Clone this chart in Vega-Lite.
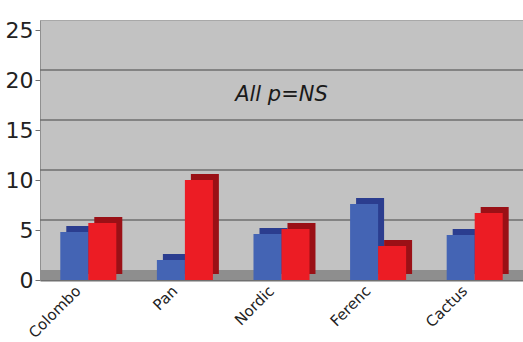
{
  "$schema": "https://vega.github.io/schema/vega-lite/v6.json",
  "width": 483,
  "height": 260,
  "autosize": {"type": "none"},
  "padding": {"left": 40, "top": 20, "right": 0, "bottom": 62},
  "background": "white",
  "config": {
    "view": {"fill": "#c2c2c2", "stroke": "#a8a8a8"},
    "font": "DejaVu Sans"
  },
  "datasets": {
    "bars": [
      {"study": "Colombo", "series": "Group 1", "value": 4.8},
      {"study": "Colombo", "series": "Group 2", "value": 5.7},
      {"study": "Pan", "series": "Group 1", "value": 2.0},
      {"study": "Pan", "series": "Group 2", "value": 10.0},
      {"study": "Nordic", "series": "Group 1", "value": 4.6},
      {"study": "Nordic", "series": "Group 2", "value": 5.1},
      {"study": "Ferenc", "series": "Group 1", "value": 7.6},
      {"study": "Ferenc", "series": "Group 2", "value": 3.4},
      {"study": "Cactus", "series": "Group 1", "value": 4.5},
      {"study": "Cactus", "series": "Group 2", "value": 6.7}
    ],
    "grid": [{"v": 5}, {"v": 10}, {"v": 15}, {"v": 20}]
  },
  "resolve": {"scale": {"color": "independent", "xOffset": "independent"}},
  "layer": [
    {
      "data": {"values": [{}]},
      "mark": {"type": "rect", "color": "#8e8e8e"},
      "encoding": {
        "y": {"datum": 0, "type": "quantitative", "scale": {"domain": [0, 25]},
              "axis": {"title": null, "values": [0, 5, 10, 15, 20, 25], "grid": false, "labelFontSize": 22,
                       "labelColor": "#222", "tickColor": "#707070", "tickSize": 5, "domainColor": "#909090",
                       "labelPadding": 2}},
        "y2": {"datum": 1}
      }
    },
    {
      "data": {"name": "grid"},
      "mark": {"type": "rule", "color": "#6e6e6e", "strokeWidth": 1.5, "yOffset": -10},
      "encoding": {
        "y": {"field": "v", "type": "quantitative"}
      }
    },
    {
      "data": {"name": "bars"},
      "mark": {"type": "bar", "yOffset": -6},
      "encoding": {
        "x": {"field": "study", "type": "nominal", "sort": ["Colombo", "Pan", "Nordic", "Ferenc", "Cactus"],
              "scale": {"paddingInner": 0.42, "paddingOuter": 0.21}},
        "xOffset": {"field": "series", "type": "nominal", "scale": {"range": [6, 62], "paddingInner": 0, "paddingOuter": 0}},
        "y": {"field": "value", "type": "quantitative"},
        "color": {"field": "series", "type": "nominal", "scale": {"range": ["#2b3d8f", "#9a1016"]}, "legend": null}
      }
    },
    {
      "data": {"name": "bars"},
      "mark": {"type": "bar"},
      "encoding": {
        "x": {"field": "study", "type": "nominal", "sort": ["Colombo", "Pan", "Nordic", "Ferenc", "Cactus"],
              "scale": {"paddingInner": 0.42, "paddingOuter": 0.21},
              "axis": {"title": null, "labelAngle": -45, "labelAlign": "right", "labelBaseline": "middle",
                       "labelFontSize": 15, "labelColor": "#222", "labelOffset": -10, "labelPadding": 8,
                       "ticks": false, "domainColor": "#707070", "domainWidth": 2}},
        "xOffset": {"field": "series", "type": "nominal", "scale": {"paddingInner": 0, "paddingOuter": 0}},
        "y": {"field": "value", "type": "quantitative"},
        "color": {"field": "series", "type": "nominal", "scale": {"range": ["#4464b4", "#ec1c24"]}, "legend": null}
      }
    },
    {
      "data": {"values": [{"label": "All p=NS"}]},
      "mark": {"type": "text", "fontSize": 21, "fontStyle": "italic", "color": "#1a1a1a", "align": "center", "baseline": "middle"},
      "encoding": {
        "x": {"datum": "Nordic", "type": "nominal"},
        "y": {"datum": 18.5, "type": "quantitative"},
        "text": {"field": "label"}
      }
    }
  ]
}
